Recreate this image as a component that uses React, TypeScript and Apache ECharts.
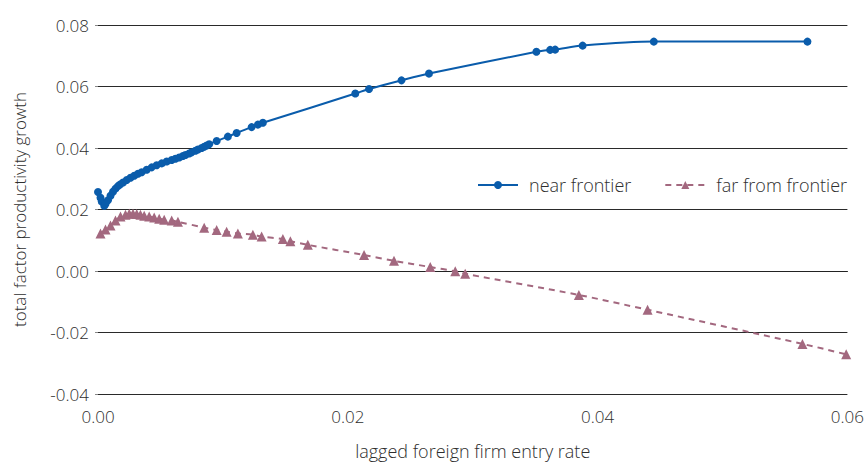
import React, { useEffect, useRef } from "react";
import * as echarts from "echarts";

const nearX = [0.0, 0.0002, 0.0003, 0.0005, 0.0006, 0.0008, 0.001, 0.0012, 0.0014, 0.0016, 0.00175, 0.002, 0.0023, 0.0026, 0.0029, 0.0032, 0.0035, 0.0039, 0.0043, 0.0047, 0.0051, 0.0055, 0.0059, 0.0062, 0.0065, 0.0068, 0.007, 0.0073, 0.0075, 0.0078, 0.008, 0.0083, 0.0085, 0.0087, 0.0089, 0.0095, 0.0104, 0.0111, 0.0123, 0.0128, 0.0132, 0.0206, 0.0217, 0.0243, 0.0265, 0.0351, 0.0362, 0.0366, 0.0388, 0.0445, 0.0568];
const nearY = [0.0257, 0.0238, 0.0226, 0.0212, 0.0218, 0.023, 0.0245, 0.0258, 0.0268, 0.0276, 0.0281, 0.0288, 0.0296, 0.0303, 0.031, 0.0316, 0.0321, 0.0329, 0.0337, 0.0344, 0.035, 0.0356, 0.0361, 0.0365, 0.0369, 0.0374, 0.0377, 0.0382, 0.0386, 0.0391, 0.0395, 0.04, 0.0404, 0.0408, 0.0412, 0.0423, 0.0437, 0.0449, 0.0468, 0.0476, 0.0482, 0.0577, 0.0592, 0.062, 0.0642, 0.0713, 0.0719, 0.072, 0.0733, 0.0746, 0.0746];

const farX = [0.0002, 0.0006, 0.001, 0.0014, 0.0018, 0.0022, 0.0025, 0.0028, 0.0031, 0.0034, 0.0037, 0.0041, 0.0045, 0.0049, 0.0053, 0.0059, 0.0064, 0.0085, 0.0095, 0.0103, 0.0112, 0.0124, 0.0131, 0.0148, 0.0154, 0.0168, 0.0213, 0.0237, 0.0266, 0.0286, 0.0294, 0.0385, 0.044, 0.0564, 0.0599];
const farY = [0.0122, 0.0135, 0.0148, 0.0164, 0.0177, 0.0183, 0.0186, 0.0186, 0.0185, 0.0183, 0.018, 0.0177, 0.0174, 0.017, 0.0167, 0.0164, 0.016, 0.0141, 0.0133, 0.0128, 0.0122, 0.0118, 0.0112, 0.0104, 0.0097, 0.0085, 0.0052, 0.0033, 0.0013, -0.0001, -0.0009, -0.0078, -0.0126, -0.0237, -0.0271];

const xTicks = [0, 0.02, 0.04, 0.06];
const yTicks = [-0.04, -0.02, 0, 0.02, 0.04, 0.06, 0.08];

const BLUE = "#0a5cab";
const MAUVE = "#a3687f";
const FONT = "'Open Sans', 'Noto Sans', sans-serif";
const TEXT = "#2e2e2e";

export default function App() {
  const ref = useRef<HTMLDivElement>(null);
  useEffect(() => {
    if (!ref.current) return;
    const chart = echarts.init(ref.current, undefined, { renderer: "svg" });
    chart.setOption({
      animation: false,
      textStyle: { fontFamily: FONT },
      grid: { left: 98, right: 16, top: 25, bottom: 65 },
      legend: {
        left: 472,
        top: 171,
        itemWidth: 40,
        itemHeight: 10,
        itemGap: 33,
        textStyle: { fontFamily: FONT, fontSize: 18, fontWeight: 300, color: TEXT, padding: [0, 0, 0, 6] },
        data: ["near frontier", "far from frontier"],
      },
      xAxis: {
        type: "value",
        min: xTicks[0],
        max: xTicks[xTicks.length - 1],
        interval: 0.02,
        name: "lagged foreign firm entry rate",
        nameLocation: "middle",
        nameGap: 48,
        nameTextStyle: { fontFamily: FONT, fontSize: 18, fontWeight: 300, color: TEXT },
        axisLine: { show: true, lineStyle: { color: "#222", width: 1 } },
        axisTick: { show: false },
        splitLine: { show: false },
        axisLabel: {
          fontFamily: FONT,
          fontSize: 17,
          fontWeight: 300,
          color: TEXT,
          margin: 14,
          formatter: (v: number) => v.toFixed(2),
        },
      },
      yAxis: {
        type: "value",
        min: yTicks[0],
        max: yTicks[yTicks.length - 1],
        interval: 0.02,
        name: "total factor productivity growth",
        nameLocation: "middle",
        nameGap: 70,
        nameTextStyle: { fontFamily: FONT, fontSize: 17, fontWeight: 300, color: TEXT },
        axisLine: { show: false },
        axisTick: { show: true, length: 3, lineStyle: { color: "#888" } },
        splitLine: { show: true, lineStyle: { color: "#2a2a2a", width: 1 } },
        axisLabel: {
          fontFamily: FONT,
          fontSize: 17,
          fontWeight: 300,
          color: TEXT,
          margin: 9,
          formatter: (v: number) => v.toFixed(2),
        },
      },
      series: [
        {
          name: "near frontier",
          type: "line",
          smooth: 0.3,
          data: nearX.map((x, i) => [x, nearY[i]]),
          symbol: "circle",
          symbolSize: 8,
          itemStyle: { color: BLUE },
          lineStyle: { color: BLUE, width: 2 },
          z: 3,
        },
        {
          name: "far from frontier",
          type: "line",
          smooth: 0.3,
          data: farX.map((x, i) => [x, farY[i]]),
          symbol: "triangle",
          symbolSize: 10,
          itemStyle: { color: MAUVE },
          lineStyle: { color: MAUVE, width: 2, type: [6, 5] },
          z: 2,
        },
      ],
    });
    return () => chart.dispose();
  }, []);
  return <div ref={ref} style={{ width: 867, height: 465, position: "absolute", left: 0, top: 0 }} />;
}
